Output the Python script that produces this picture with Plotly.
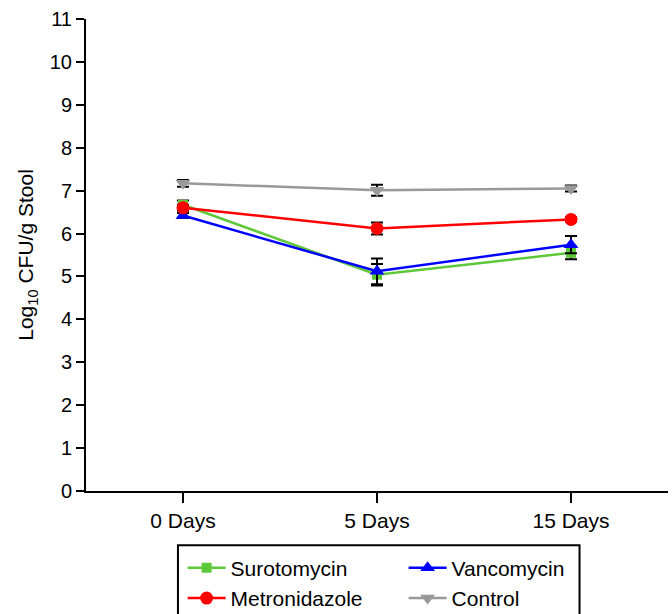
import plotly.graph_objects as go

days = ["0 Days", "5 Days", "15 Days"]

surotomycin = [6.67, 5.04, 5.55]
surotomycin_err = [0.10, 0.25, 0.15]
vancomycin = [6.42, 5.12, 5.74]
vancomycin_err = [0.06, 0.30, 0.20]
metronidazole = [6.60, 6.12, 6.33]
metronidazole_err = [0.07, 0.14, 0.05]
control = [7.17, 7.01, 7.05]
control_err = [0.08, 0.13, 0.07]

series = [
    ("Surotomycin", surotomycin, surotomycin_err, "#5DC83A", "square", 10),
    ("Vancomycin", vancomycin, vancomycin_err, "#0000FF", "triangle-up", 13),
    ("Metronidazole", metronidazole, metronidazole_err, "#FF0000", "circle", 13),
    ("Control", control, control_err, "#999999", "triangle-down", 13),
]

fig = go.Figure()
for name, vals, errs, color, sym, size in series:
    fig.add_trace(go.Scatter(
        x=days, y=vals, name=name, mode="lines+markers",
        line=dict(color=color, width=2.5),
        marker=dict(color=color, symbol=sym, size=size),
        error_y=dict(type="data", array=errs, visible=True,
                     color="black", thickness=2, width=6),
    ))

# legend frame (box extends past the bottom edge like the reference)
fig.add_shape(type="rect", xref="paper", yref="paper",
              x0=0.158, x1=0.848, y0=-0.115, y1=-0.30,
              line=dict(color="black", width=2), fillcolor="rgba(0,0,0,0)")

fig.update_layout(
    width=672, height=614,
    margin=dict(l=86, r=4, t=19, b=123, autoexpand=False),
    paper_bgcolor="white", plot_bgcolor="white",
    font=dict(family="Liberation Sans, Arial, sans-serif", size=20, color="black"),
    showlegend=True,
    legend=dict(
        orientation="h", x=0.166, y=-0.12, xanchor="left", yanchor="top",
        borderwidth=0, bgcolor="rgba(0,0,0,0)", entrywidth=168,
        itemwidth=38, font=dict(size=21), tracegroupgap=0,
    ),
    xaxis=dict(
        range=[-0.5, 2.5], showline=True, linecolor="black", linewidth=2,
        ticks="outside", ticklen=10, tickwidth=2, tickcolor="black",
        showgrid=False, zeroline=False, tickfont=dict(size=21),
    ),
    yaxis=dict(
        range=[0, 11], dtick=1, showline=True, linecolor="black", linewidth=2,
        ticks="outside", ticklen=8, tickwidth=2, tickcolor="black",
        showgrid=False, zeroline=False, tickfont=dict(size=20),
        title=dict(text="Log<sub>10</sub> CFU/g Stool", standoff=10,
                   font=dict(size=21)),
    ),
)

fig.write_html("out.html")
